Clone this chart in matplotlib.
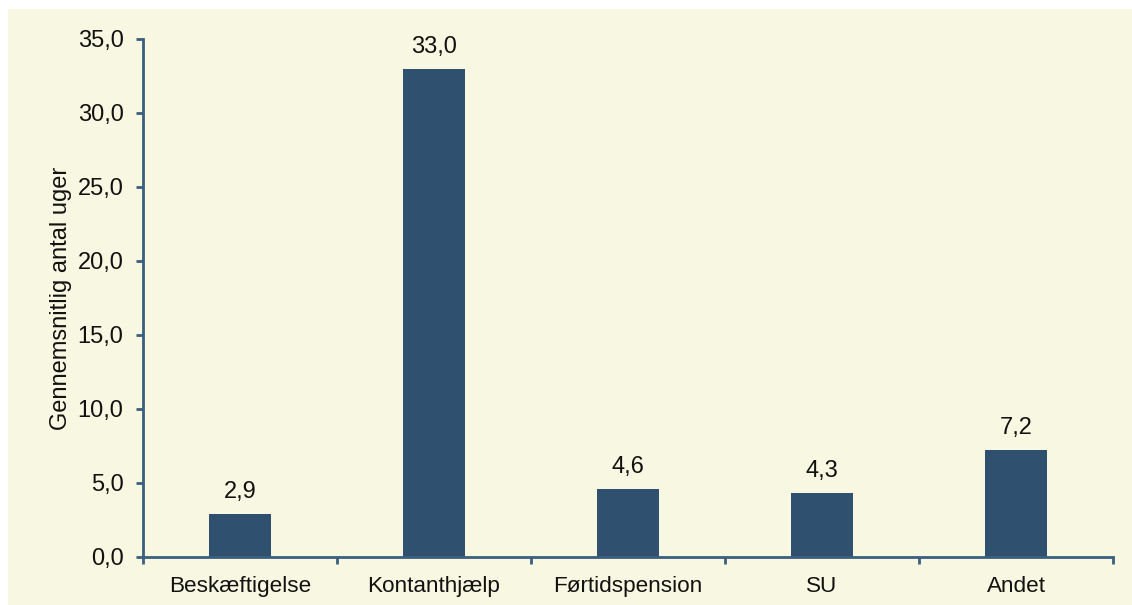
import matplotlib
matplotlib.use("Agg")
import matplotlib.pyplot as plt
from matplotlib.patches import Rectangle
from matplotlib.ticker import FuncFormatter, MultipleLocator

categories = ["Beskæftigelse", "Kontanthjælp", "Førtidspension", "SU", "Andet"]
weeks = [2.9, 33.0, 4.6, 4.3, 7.2]

BG = "#f8f7e1"
BAR = "#2f516f"
AXIS = "#3b5f7e"

plt.rcParams["font.family"] = ["Liberation Sans", "DejaVu Sans"]

fig = plt.figure(figsize=(11.32, 6.05), dpi=100, facecolor="white")
fig.patches.append(Rectangle((8 / 1132, 0), 1, 1 - 9 / 605,
                             transform=fig.transFigure, facecolor=BG,
                             edgecolor="none", zorder=-10))
ax = fig.add_axes([143 / 1132, 1 - 557 / 605, 970 / 1132, (557 - 39) / 605])
ax.patch.set_visible(False)

x = range(len(categories))
bars = ax.bar(x, weeks, width=0.32, color=BAR, zorder=2)
for xi, v in zip(x, weeks):
    ax.annotate(f"{v:.1f}".replace(".", ","), xy=(xi, v), xytext=(0, 11.5),
                textcoords="offset points", ha="center", va="baseline",
                fontsize=17, color="#111111")

ax.set_xlim(-0.5, len(categories) - 0.5)
ax.set_ylim(0, 35)
ax.yaxis.set_major_locator(MultipleLocator(5))
ax.yaxis.set_major_formatter(FuncFormatter(lambda v, p: f"{v:.1f}".replace(".", ",")))

ax.set_xticks(list(x))
ax.set_xticklabels(categories)
ax.set_xticks([i - 0.5 for i in range(len(categories) + 1)], minor=True)
ax.tick_params(axis="x", which="major", length=0, pad=14, labelsize=16.2, labelcolor="#111111")
ax.tick_params(axis="x", which="minor", length=5, width=2, color=AXIS, direction="out")
ax.tick_params(axis="y", length=5, width=2, color=AXIS, direction="out", pad=9,
               labelsize=17, labelcolor="#111111")

for s in ("top", "right"):
    ax.spines[s].set_visible(False)
for s in ("left", "bottom"):
    ax.spines[s].set_color(AXIS)
    ax.spines[s].set_linewidth(2)

ax.set_ylabel("Gennemsnitlig antal uger", fontsize=17, color="#111111")
ax.yaxis.set_label_coords(-0.073, 0.5)

fig.savefig("out.png", dpi=100, facecolor="white")
